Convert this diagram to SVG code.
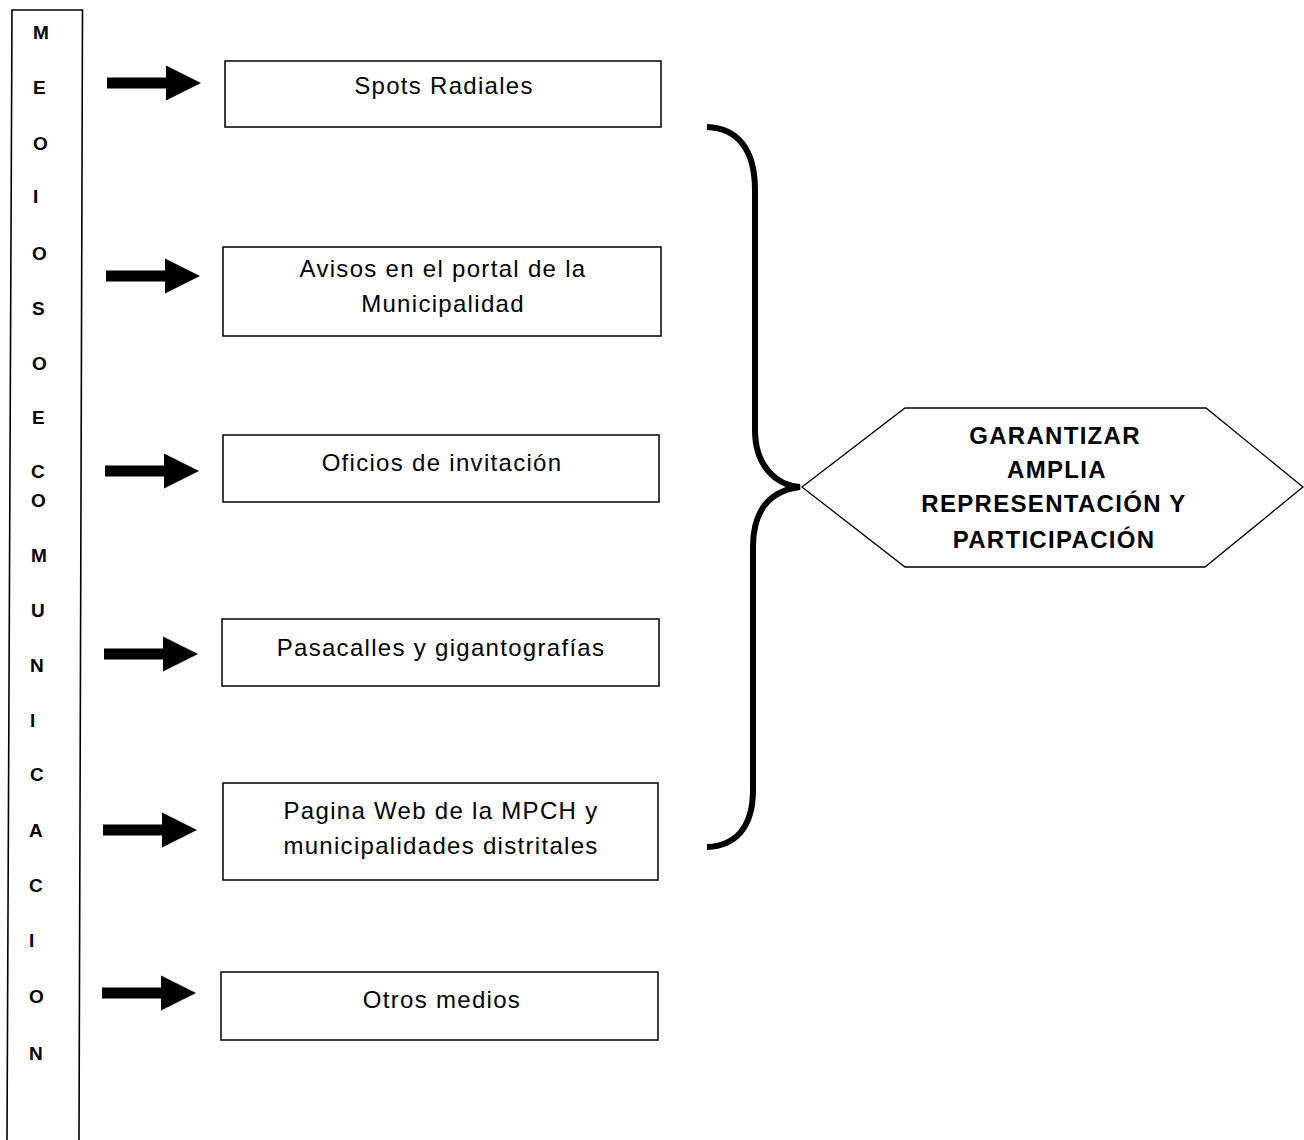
<svg xmlns="http://www.w3.org/2000/svg" xmlns:xlink="http://www.w3.org/1999/xlink" width="1304" height="1140" viewBox="0 0 1304 1140">
<style>
.bx{fill:#fff;stroke:#000;stroke-width:1.5}
.t{font-family:"Liberation Sans",Arial,sans-serif;font-size:24px;letter-spacing:1.3px;text-anchor:middle;fill:#000}
.h{font-family:"Liberation Sans",Arial,sans-serif;font-size:24px;font-weight:bold;letter-spacing:1.3px;text-anchor:middle;fill:#000}
.l{font-family:"Liberation Sans",Arial,sans-serif;font-size:19px;font-weight:bold;fill:#000}
</style>
<defs>
<path id="arr" d="M0,-5.5 H59 V-17.5 L94,0 L59,17.5 V5.5 H0 Z" fill="#000"/>
</defs>
<rect width="1304" height="1140" fill="#fff"/>
<g id="column">
<path d="M7,1140 L12,10 L82.5,10 L79,1140" fill="none" stroke="#000" stroke-width="1.6"/>
<text class="l" x="33" y="39">M</text>
<text class="l" x="33" y="94">E</text>
<text class="l" x="33" y="150">O</text>
<text class="l" x="33" y="203">I</text>
<text class="l" x="32" y="260">O</text>
<text class="l" x="32" y="315">S</text>
<text class="l" x="32" y="370">O</text>
<text class="l" x="32" y="424">E</text>
<text class="l" x="31" y="478">C</text>
<text class="l" x="31" y="507">O</text>
<text class="l" x="31" y="562">M</text>
<text class="l" x="31" y="617">U</text>
<text class="l" x="30" y="672">N</text>
<text class="l" x="30" y="727">I</text>
<text class="l" x="30" y="781">C</text>
<text class="l" x="29" y="837">A</text>
<text class="l" x="29" y="892">C</text>
<text class="l" x="29" y="947">I</text>
<text class="l" x="29" y="1003">O</text>
<text class="l" x="29" y="1060">N</text>
</g>
<g id="connectors">
<use xlink:href="#arr" x="107" y="83"/>
<use xlink:href="#arr" x="106" y="276"/>
<use xlink:href="#arr" x="105" y="471"/>
<use xlink:href="#arr" x="104" y="654"/>
<use xlink:href="#arr" x="103" y="830"/>
<use xlink:href="#arr" x="102" y="993"/>
<path d="M707,127 C738,128 755,150 755,190 L755,430 C755,465 775,485 800,487 C775,490 753,505 753,547 L753,790 C753,828 735,846 707,847" fill="none" stroke="#000" stroke-width="6"/>
</g>
<g id="n1">
<rect class="bx" x="225" y="61" width="436" height="66"/>
<text class="t" x="444" y="94">Spots Radiales</text>
</g>
<g id="n2">
<rect class="bx" x="223" y="247" width="438" height="89"/>
<text class="t" x="443" y="277">Avisos en el  portal  de la</text>
<text class="t" x="443" y="312">Municipalidad</text>
</g>
<g id="n3">
<rect class="bx" x="223" y="435" width="436" height="67"/>
<text class="t" x="442" y="471">Oficios de invitación</text>
</g>
<g id="n4">
<rect class="bx" x="222" y="619" width="437" height="67"/>
<text class="t" x="441" y="656">Pasacalles y gigantografías</text>
</g>
<g id="n5">
<rect class="bx" x="223" y="783" width="435" height="97"/>
<text class="t" x="441" y="819">Pagina Web de la MPCH y</text>
<text class="t" x="441" y="854">municipalidades distritales</text>
</g>
<g id="n6">
<rect class="bx" x="221" y="972" width="437" height="68"/>
<text class="t" x="442" y="1008">Otros medios</text>
</g>
<g id="goal">
<polygon points="802,487 905,408 1206,408 1303,487 1205,567 905,567" fill="#fff" stroke="#000" stroke-width="1.3"/>
<text class="h" x="1055" y="444">GARANTIZAR</text>
<text class="h" x="1057" y="478">AMPLIA</text>
<text class="h" x="1054" y="512">REPRESENTACIÓN Y</text>
<text class="h" x="1054" y="548">PARTICIPACIÓN</text>
</g>
</svg>
